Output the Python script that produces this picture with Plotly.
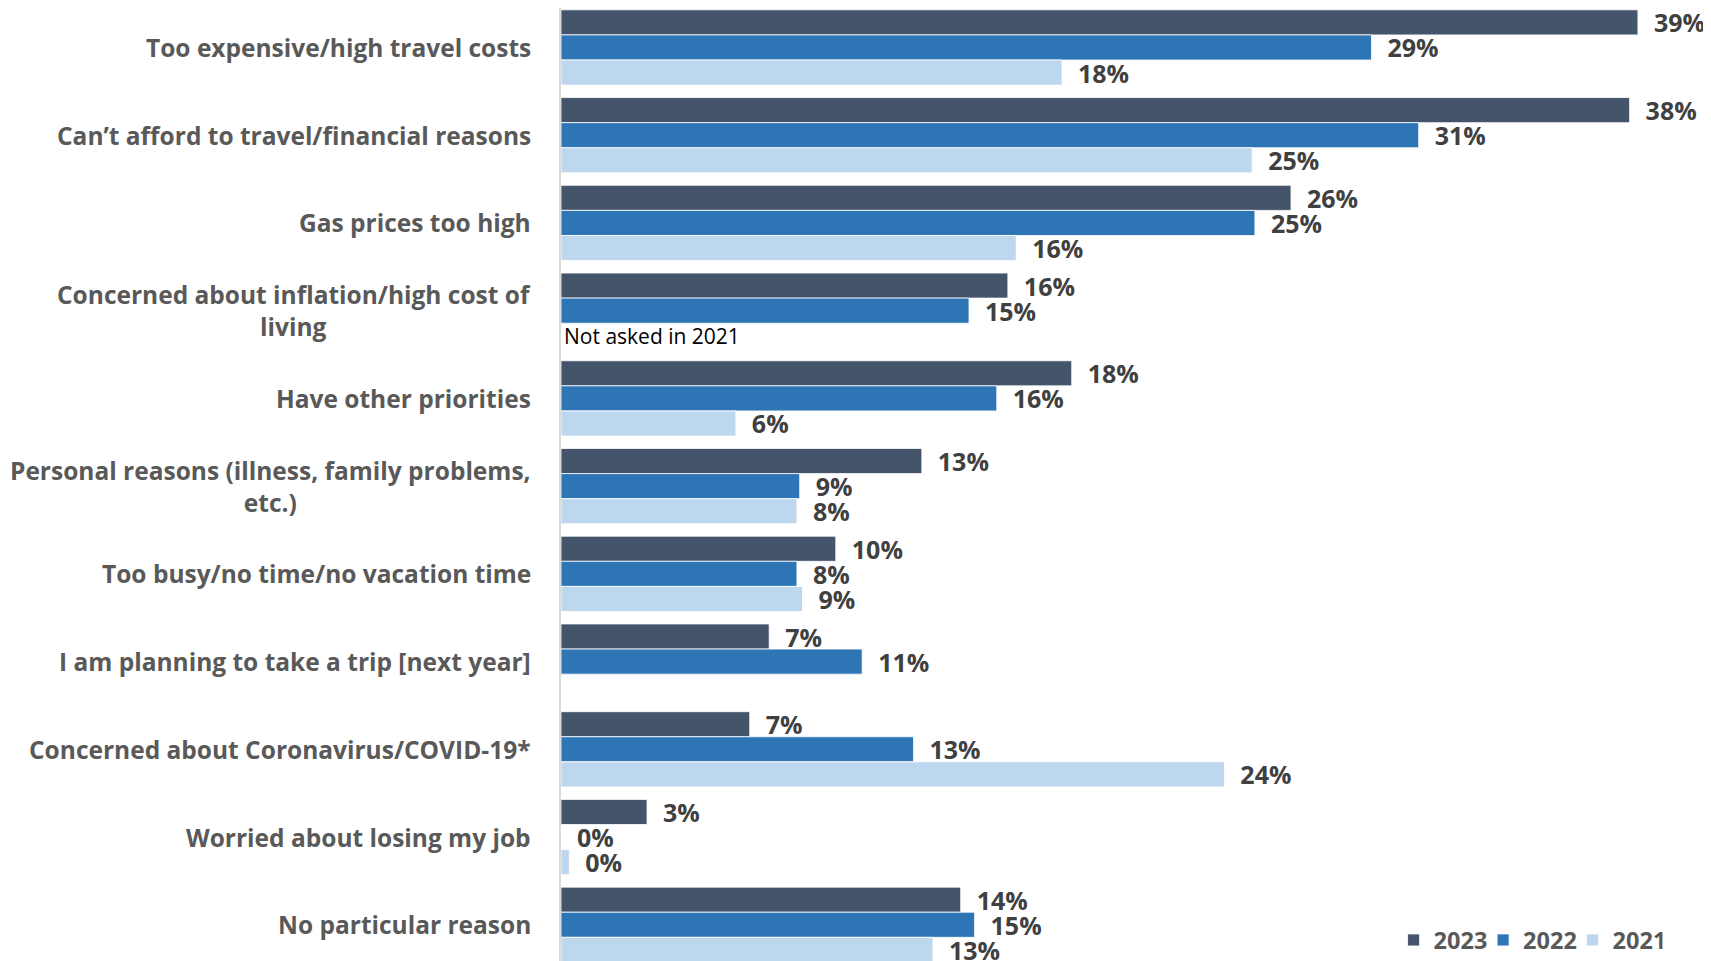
import plotly.graph_objects as go

categories = [
    "Too expensive/high travel costs",
    "Can’t afford to travel/financial reasons",
    "Gas prices too high",
    "Concerned about inflation/high cost of<br>living",
    "Have other priorities",
    "Personal reasons (illness, family problems,<br>etc.)",
    "Too busy/no time/no vacation time",
    "I am planning to take a trip [next year]",
    "Concerned about Coronavirus/COVID-19*",
    "Worried about losing my job",
    "No particular reason",
]

years = ["2023", "2022", "2021"]

values_2023 = [38.8, 38.5, 26.3, 16.1, 18.4, 13.0, 9.9, 7.5, 6.8, 3.1, 14.4]
values_2022 = [29.2, 30.9, 25.0, 14.7, 15.7, 8.6, 8.5, 10.85, 12.7, 0.0, 14.9]
values_2021 = [18.05, 24.9, 16.4, 0.0, 6.3, 8.5, 8.7, None, 23.9, 0.3, 13.4]

labels_2023 = ["39%", "38%", "26%", "16%", "18%", "13%", "10%", "7%", "7%", "3%", "14%"]
labels_2022 = ["29%", "31%", "25%", "15%", "16%", "9%", "8%", "11%", "13%", "0%", "15%"]
labels_2021 = ["18%", "25%", "16%", "Not asked in 2021", "6%", "8%", "9%", "", "24%", "0%", "13%"]

colors = ["#44546A", "#2E75B6", "#BDD7EE"]

series = [values_2023, values_2022, values_2021]
labels = [labels_2023, labels_2022, labels_2021]

FONT = "Open Sans"
NBSP = "\u00a0"

fig = go.Figure()
for name, vals, txt, col in zip(years, series, labels, colors):
    is_note = [t.startswith("Not") for t in txt]
    shown = [t if n or t == "" else NBSP + NBSP + t for t, n in zip(txt, is_note)]
    sizes = [21 if n else 25 for n in is_note]
    tcolors = ["#000000" if n else "#404040" for n in is_note]
    weights = ["normal" if n else "bold" for n in is_note]
    fig.add_trace(go.Bar(
        name=name,
        y=categories,
        x=vals,
        orientation="h",
        marker=dict(color=col, line=dict(color="white", width=0.8)),
        text=shown,
        textposition="outside",
        textfont=dict(family=FONT, size=sizes, color=tcolors, weight=weights),
        constraintext="none",
        cliponaxis=False,
        hoverinfo="skip",
    ))

for cat in categories:
    fig.add_annotation(
        x=0, xref="paper", xshift=-28, xanchor="right",
        y=cat, yref="y", yanchor="middle",
        text=cat, showarrow=False, align="center",
        font=dict(family=FONT, size=24.5, color="#595959", weight="bold"),
    )

fig.update_layout(
    width=1711, height=961,
    margin=dict(l=553, r=20, t=0, b=0, autoexpand=False),
    paper_bgcolor="white", plot_bgcolor="white",
    barmode="group", bargap=0.142, bargroupgap=0,
    showlegend=True,
    legend=dict(
        orientation="h", xref="paper", yref="paper",
        x=0.968, xanchor="right", y=0.030, yanchor="middle",
        font=dict(family=FONT, size=23.5, color="#595959", weight="bold"),
        bgcolor="rgba(0,0,0,0)", traceorder="normal", itemwidth=30,
        entrywidth=44.5, entrywidthmode="pixels",
    ),
    xaxis=dict(range=[0, 41], showgrid=False, zeroline=False, showticklabels=False, showline=False),
    yaxis=dict(
        type="category", categoryorder="array", categoryarray=categories,
        range=[10.504, -0.45], showticklabels=False, showgrid=False,
        showline=True, linecolor="#D9D9D9", linewidth=2, ticks="",
    ),
)

fig.write_html("out.html")
